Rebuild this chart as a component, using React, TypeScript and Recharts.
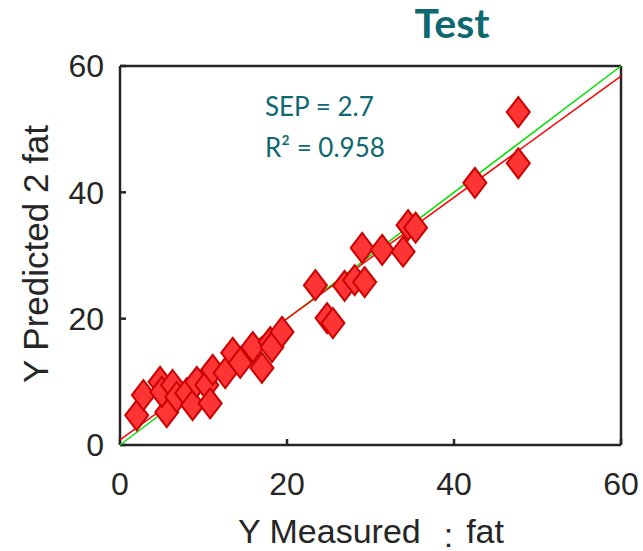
import React from 'react';
import {Label, Scatter, ScatterChart, XAxis, YAxis} from 'recharts';

const measured = [2.0, 2.8, 4.8, 5.6, 5.0, 6.3, 6.8, 8.0, 8.7, 9.2, 10.4, 10.8, 11.1, 12.6, 13.5, 14.4, 15.9, 17.0, 18.0, 18.2, 19.4, 23.4, 24.8, 25.5, 26.9, 28.1, 29.0, 29.3, 31.4, 33.9, 34.5, 35.4, 42.5, 47.7, 47.7];
const predicted = [4.7, 7.9, 10.0, 5.2, 8.4, 9.5, 7.6, 8.2, 6.3, 10.0, 9.5, 6.6, 11.9, 11.4, 14.6, 13.0, 15.5, 12.2, 16.3, 15.5, 17.9, 25.3, 20.1, 19.3, 25.2, 26.1, 31.2, 25.8, 30.9, 30.6, 34.8, 34.4, 41.5, 44.6, 52.7];

const idealX = [0, 60];
const idealY = [0, 60];
const fitX = [0, 60];
const fitY = [0.8, 58.4];

const axisTicks = [0, 20, 40, 60];
const TITLE = 'Test';
const SEP_TEXT = 'SEP = 2.7';
const R2_TEXT = 'R² = 0.958';

const points = measured.map((x, i) => ({x, y: predicted[i]}));
const idealLine = idealX.map((x, i) => ({x, y: idealY[i]}));
const fitLine = fitX.map((x, i) => ({x, y: fitY[i]}));

const INK = '#262626';
const TEAL = '#0d6870';
const SANS = '"Liberation Sans", Arial, sans-serif';
const TICK_FONT = {fontSize: 32, fill: INK, fontFamily: SANS};

const Diamond = (props: any) => {
  const {cx, cy} = props;
  if (cx == null || cy == null) return <g />;
  const w = 11.5;
  const h = 15;
  return (
    <polygon
      points={`${cx},${cy - h} ${cx + w},${cy} ${cx},${cy + h} ${cx - w},${cy}`}
      fill="#ff3535"
      stroke="#cc0000"
      strokeWidth={2}
    />
  );
};

const NoShape = () => <g />;

export default function App() {
  return (
    <div style={{position: 'absolute', left: 0, top: 0, width: 643, height: 551, background: '#fff'}}>
      <ScatterChart width={643} height={551} margin={{top: 60, right: 16, bottom: 56, left: 40}}>
        <XAxis
          type="number"
          dataKey="x"
          domain={[0, 60]}
          ticks={axisTicks}
          height={50}
          tickSize={-6}
          tickMargin={33}
          tick={TICK_FONT}
          axisLine={{stroke: INK, strokeWidth: 2.5}}
          tickLine={{stroke: INK, strokeWidth: 2.5}}
        >
          <Label
            content={() => (
              <text x={238} y={543} fontSize={34} fill={INK} fontFamily={SANS}>
                Y Measured
                <tspan dx={23} dy={4}>:</tspan>
                <tspan dx={13} dy={-4}>fat</tspan>
              </text>
            )}
          />
        </XAxis>
        <XAxis
          xAxisId="top"
          orientation="top"
          type="number"
          domain={[0, 60]}
          ticks={axisTicks}
          height={6}
          tickSize={-6}
          tickFormatter={() => ''}
          axisLine={{stroke: INK, strokeWidth: 2.5}}
          tickLine={{stroke: INK, strokeWidth: 2.5}}
        >
          <Label
            content={() => (
              <text x={452} y={38} fontSize={41} fontWeight="bold" fill={TEAL} textAnchor="middle" fontFamily="Lato, 'Open Sans', sans-serif">
                {TITLE}
              </text>
            )}
          />
        </XAxis>
        <YAxis
          type="number"
          dataKey="y"
          domain={[0, 60]}
          ticks={axisTicks}
          width={80}
          tickSize={-6}
          tickMargin={22}
          tick={TICK_FONT}
          axisLine={{stroke: INK, strokeWidth: 2.5}}
          tickLine={{stroke: INK, strokeWidth: 2.5}}
        >
          <Label
            content={() => (
              <text
                x={48}
                y={254}
                fontSize={35}
                fill={INK}
                textAnchor="middle"
                transform="rotate(-90 48 254)"
                fontFamily={SANS}
              >
                Y Predicted 2 fat
              </text>
            )}
          />
        </YAxis>
        <YAxis
          yAxisId="right"
          orientation="right"
          type="number"
          domain={[0, 60]}
          ticks={axisTicks}
          width={6}
          tickSize={-6}
          tickFormatter={() => ''}
          axisLine={{stroke: INK, strokeWidth: 2.5}}
          tickLine={{stroke: INK, strokeWidth: 2.5}}
        >
          <Label
            content={() => (
              <g fontFamily="Lato, 'Open Sans', sans-serif" fontSize={26} fill={TEAL}>
                <text x={265} y={116}>{SEP_TEXT}</text>
                <text x={265} y={157}>{R2_TEXT}</text>
              </g>
            )}
          />
        </YAxis>
        <Scatter
          data={idealLine}
          line={{stroke: '#00e000', strokeWidth: 1.5}}
          shape={NoShape}
          isAnimationActive={false}
        />
        <Scatter
          data={fitLine}
          line={{stroke: '#ff0000', strokeWidth: 1.5}}
          shape={NoShape}
          isAnimationActive={false}
        />
        <Scatter data={points} shape={Diamond} isAnimationActive={false} />
      </ScatterChart>
    </div>
  );
}
